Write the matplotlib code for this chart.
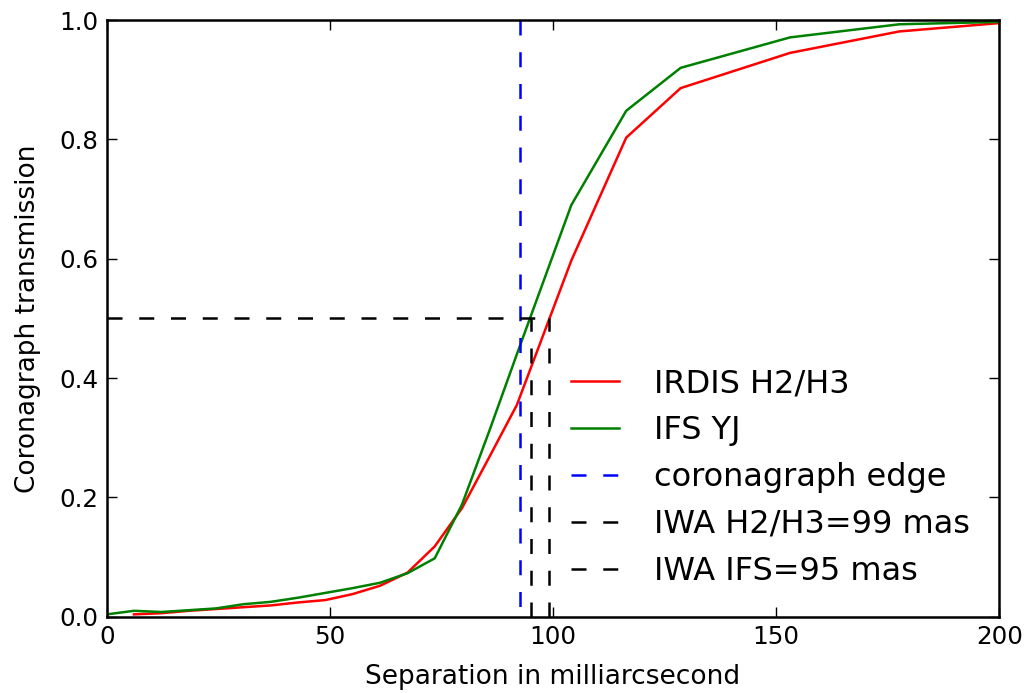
import numpy as np
import matplotlib
matplotlib.use('Agg')
import matplotlib.pyplot as plt

# Separation sampling (mas) and transmission curves
sep_irdis = [6.1, 12.25, 18.4, 24.5, 30.6, 36.75, 42.9, 49.0, 55.1, 61.25, 67.4,
             73.5, 79.6, 85.75, 91.9, 104.1, 116.4, 128.6, 153.1, 177.6, 200.0]
trans_irdis = [0.004, 0.006, 0.010, 0.013, 0.016, 0.019, 0.024, 0.028, 0.038, 0.052, 0.074,
               0.118, 0.182, 0.268, 0.355, 0.597, 0.803, 0.886, 0.945, 0.981, 0.995]

sep_ifs = [0.0, 6.1, 12.25, 18.4, 24.5, 30.6, 36.75, 42.9, 49.0, 55.1, 61.25, 67.4,
           73.5, 79.6, 85.75, 91.9, 104.1, 116.4, 128.6, 153.1, 177.6, 200.0]
trans_ifs = [0.004, 0.010, 0.008, 0.011, 0.014, 0.021, 0.025, 0.032, 0.040, 0.048, 0.057, 0.073,
             0.098, 0.188, 0.312, 0.440, 0.690, 0.848, 0.920, 0.971, 0.993, 0.997]

coro_edge = 92.5
iwa_irdis = 99
iwa_ifs = 95
half = 0.5

dash = (0, (6, 6.7))

fig = plt.figure(figsize=(10.26, 6.93), dpi=100)
ax = fig.add_axes([0.104, 0.110, 0.870, 0.861])

ax.plot(sep_irdis, trans_irdis, color='red', lw=1.8, label='IRDIS H2/H3')
ax.plot(sep_ifs, trans_ifs, color='green', lw=1.8, label='IFS YJ')
# drawn top-down so the dash pattern starts at the top spine
ax.plot([coro_edge, coro_edge], [1, 0], color='blue', lw=1.8, linestyle=dash,
        label='coronagraph edge')
ax.plot([iwa_irdis, iwa_irdis], [0, half], color='black', lw=1.8, linestyle=dash,
        label='IWA H2/H3=%d mas' % iwa_irdis)
ax.plot([iwa_ifs, iwa_ifs], [0, half], color='black', lw=1.8, linestyle=dash,
        label='IWA IFS=%d mas' % iwa_ifs)
ax.plot([0, iwa_irdis], [half, half], color='black', lw=1.8, linestyle=dash)

ax.set_xlim(0, 200)
ax.set_ylim(0, 1)
ax.set_xticks([0, 50, 100, 150, 200])
ax.set_yticks([0.0, 0.2, 0.4, 0.6, 0.8, 1.0])
ax.yaxis.set_major_formatter(matplotlib.ticker.FormatStrFormatter('%.1f'))

ax.tick_params(direction='in', top=True, right=True, length=7.2, width=1.0,
               labelsize=17.7, pad=6)
for s in ax.spines.values():
    s.set_linewidth(1.8)

ax.set_xlabel('Separation in milliarcsecond', fontsize=19, labelpad=11)
ax.set_ylabel('Coronagraph transmission', fontsize=19, labelpad=13)

ax.legend(loc='upper left', bbox_to_anchor=(0.488, 0.465), frameon=False,
          fontsize=23, handlelength=1.5, handletextpad=1.1, labelspacing=0.5)

fig.savefig('out.png', dpi=100)
